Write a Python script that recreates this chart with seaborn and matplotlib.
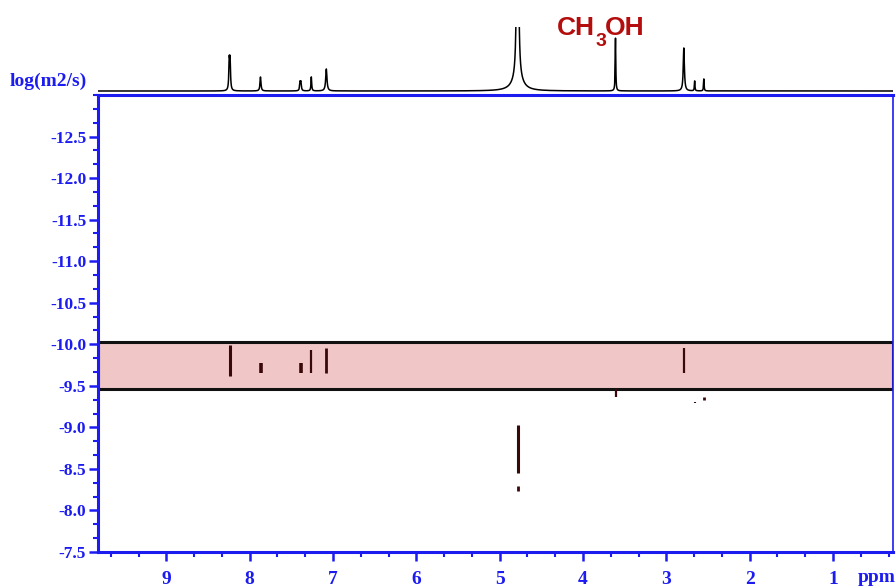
import numpy as np
import pandas as pd
import matplotlib
matplotlib.use("Agg")
import matplotlib.pyplot as plt
from matplotlib.ticker import MultipleLocator, FormatStrFormatter
import seaborn as sns

# 1H spectrum peaks: shift (ppm), height (arb.), half-width (ppm)
peak_ppm = [8.245, 8.235, 7.870, 7.395, 7.385, 7.260, 7.080, 4.785, 4.785, 3.610, 2.790, 2.660, 2.550]
peak_height = [28, 28, 14, 8, 8, 14, 22, 1500, 12, 53, 43, 10, 12]
peak_width = [0.006, 0.006, 0.007, 0.006, 0.006, 0.005, 0.009, 0.004, 0.07, 0.004, 0.008, 0.004, 0.004]

# DOSY cross peaks: shift (ppm), log D range (m2/s)
dosy_ppm = [8.24, 7.87, 7.39, 7.26, 7.08, 2.79, 3.61, 4.78, 4.78, 2.66, 2.55]
dosy_logd_hi = [-9.99, -9.77, -9.78, -9.93, -9.96, -9.96, -9.46, -9.03, -8.30, -9.31, -9.36]
dosy_logd_lo = [-9.62, -9.65, -9.66, -9.65, -9.65, -9.65, -9.36, -8.45, -8.24, -9.29, -9.33]
dosy_lw = [2.2, 2.6, 2.6, 1.6, 2.0, 1.6, 1.6, 2.2, 2.0, 1.5, 2.0]

# component band in the diffusion dimension
band_logd = (-10.03, -9.46)

x_ticks = [9, 8, 7, 6, 5, 4, 3, 2, 1]
y_ticks = [-12.5, -12.0, -11.5, -11.0, -10.5, -10.0, -9.5, -9.0, -8.5, -8.0, -7.5]

BLUE = "#1c1cf0"
MAROON = "#3a0808"
RED = "#b30d0d"

sns.set_style("white")
plt.rcParams["font.family"] = ["Liberation Serif", "DejaVu Serif"]

W, H = 896, 588
fig = plt.figure(figsize=(W / 100, H / 100), dpi=100)

left, right, top, bottom = 98, 893, 95, 552
ax = fig.add_axes([left / W, 1 - bottom / H, (right - left) / W, (bottom - top) / H])

# diffusion band and cross peaks
ax.axhspan(band_logd[0], band_logd[1], facecolor="#f0c6c6", edgecolor="#111111", lw=2.2, zorder=1)
for p, hi, lo, lw in zip(dosy_ppm, dosy_logd_hi, dosy_logd_lo, dosy_lw):
    ax.plot([p, p], [hi, lo], color=MAROON, lw=lw, solid_capstyle="butt", zorder=3)

ax.set_xlim(9.82, 0.28)
ax.set_ylim(-7.5, -13.0)
ax.xaxis.set_minor_locator(MultipleLocator(1 / 3))
ax.yaxis.set_minor_locator(MultipleLocator(1 / 6))
ax.set_xticks(x_ticks)
ax.set_yticks(y_ticks)
ax.yaxis.set_major_formatter(FormatStrFormatter("%.1f"))
ax.xaxis.set_major_formatter(FormatStrFormatter("%d"))

for side, lw in [("left", 2.2), ("bottom", 2.2), ("top", 2.2), ("right", 1.2)]:
    ax.spines[side].set_visible(True)
    ax.spines[side].set_color(BLUE)
    ax.spines[side].set_linewidth(lw)

ax.tick_params(axis="both", which="major", direction="out", length=6.5, width=1.8,
               color=BLUE, labelcolor=BLUE)
ax.tick_params(axis="both", which="minor", direction="out", length=3.5, width=1.5, color=BLUE)
ax.tick_params(axis="y", which="major", pad=2, labelsize=12.5)
ax.tick_params(axis="x", which="major", pad=7, labelsize=14)
ax.tick_params(left=True, bottom=True, which="both")
for lab in ax.get_xticklabels() + ax.get_yticklabels():
    lab.set_fontweight("bold")
ax.set_xlabel("")
ax.set_ylabel("")

# 1D projection above the 2D map
ax_top = fig.add_axes([left / W, 1 - 95 / H, (right - left) / W, 68 / H])
ppm = np.linspace(0.28, 9.82, 12000)
inten = np.zeros_like(ppm)
for c, h, g in zip(peak_ppm, peak_height, peak_width):
    inten += h * g ** 2 / ((ppm - c) ** 2 + g ** 2)
spec = pd.DataFrame({"ppm": ppm, "intensity": inten})
sns.lineplot(data=spec, x="ppm", y="intensity", ax=ax_top, color="black", lw=1.1, sort=False)
ax_top.set_xlim(9.82, 0.28)
ax_top.set_ylim(-4, 64)
ax_top.axis("off")

# methanol label with a dropped subscript
sans_bold = dict(color=RED, fontweight="bold", family=["Liberation Sans", "DejaVu Sans"])
fig.text(595 / W, 1 - 28 / H, "CH", fontsize=19, ha="right", va="center", **sans_bold)
fig.text(595.5 / W, 1 - 41 / H, "3", fontsize=14, ha="left", va="center", **sans_bold)
fig.text(605 / W, 1 - 28 / H, "OH", fontsize=19, ha="left", va="center", **sans_bold)

fig.text(10 / W, 1 - 81 / H, "log(m2/s)", color=BLUE, fontsize=14, fontweight="bold",
         ha="left", va="center")
fig.text(858 / W, 1 - 577 / H, "ppm", color=BLUE, fontsize=14, fontweight="bold",
         ha="left", va="center")

fig.savefig("out.png", dpi=100)
